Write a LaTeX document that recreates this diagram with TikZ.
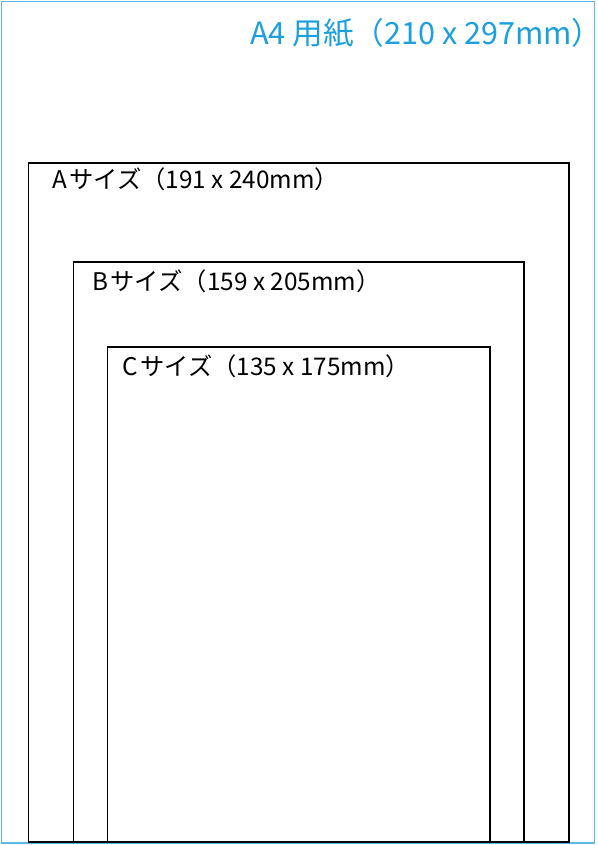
\documentclass[tikz,border=0pt]{standalone}
\usepackage{fontspec}
\setmainfont{Noto Sans CJK JP}
\definecolor{titleblue}{HTML}{1A9FE0}
\definecolor{borderblue}{HTML}{5CB8E6}
\begin{document}
\begin{tikzpicture}[x=1pt,y=-1pt,
  sizebox/.style={draw=black,line width=1.8pt},
  sizelabel/.style={anchor=base west,inner sep=0pt,font=\fontsize{24.3}{27}\selectfont,text=black},
  titlelabel/.style={anchor=base west,inner sep=0pt,font=\fontsize{30.6}{33}\selectfont,text=titleblue}]
\useasboundingbox (0,0) rectangle (597,845);
\draw[borderblue,line width=1.2pt] (1.5,1.5) rectangle (594.5,843);
\node[titlelabel] (title) at (250,45) {A4 用紙（210 x 297mm）\kern-14pt};
\draw[sizebox] (28.5,163) rectangle (569,842) coordinate (a);
\node[sizelabel] (la) at (52,188) {A\kern2.5pt サイズ（191 x 240mm）};
\draw[sizebox] (73.5,262) rectangle (524,842) coordinate (b);
\node[sizelabel] (lb) at (92,290) {B\kern2.5pt サイズ（159 x 205mm）};
\draw[sizebox] (107.5,347) rectangle (490,842) coordinate (c);
\node[sizelabel] (lc) at (122,375) {C\kern2.5pt サイズ（135 x 175mm）};
\end{tikzpicture}
\end{document}
